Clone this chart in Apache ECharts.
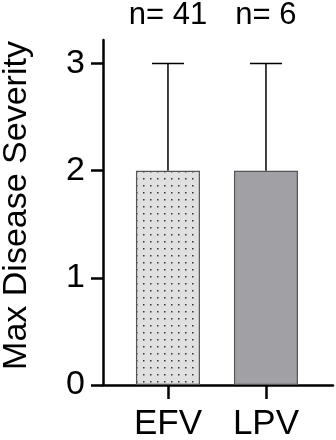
<!DOCTYPE html>
<html>
<head>
<meta charset="utf-8">
<script src="https://cdn.jsdelivr.net/npm/echarts@6/dist/echarts.min.js"></script>
<style>
  html, body { margin: 0; padding: 0; background: #fff; }
  #chart { width: 336px; height: 440px; }
</style>
</head>
<body>
<div id="chart"></div>
<script>
var groups = ['EFV', 'LPV'];
var nLabels = ['n= 41', 'n= 6'];
var means = [2, 2];
var upper = [3, 3];
var yTicks = [0, 1, 2, 3];
var xPos = [0, 1];

// dotted fill for the first bar
var dots = document.createElement('canvas');
dots.width = 7;
dots.height = 7;
var ctx = dots.getContext('2d');
ctx.fillStyle = '#e0e0e0';
ctx.fillRect(0, 0, 7, 7);
ctx.fillStyle = '#333';
ctx.fillRect(3, 3, 1.5, 1.5);

var fills = [{ image: dots, repeat: 'repeat' }, '#a1a1a5'];

var font = 'Liberation Sans';

var chart = echarts.init(document.getElementById('chart'));

var option = {
    animation: false,
    grid: { left: 103, right: 3, top: 40, bottom: 55, outerBoundsMode: 'none' },
    xAxis: [{
        type: 'value',
        min: -0.663,
        max: 1.684,
        splitLine: { show: false },
        axisLine: { lineStyle: { color: '#000', width: 2.5 } },
        axisTick: { customValues: xPos, length: 14, lineStyle: { color: '#000', width: 2.5 } },
        axisLabel: {
            customValues: xPos,
            formatter: function (v) { return groups[Math.round(v)]; },
            color: '#000', fontFamily: font, fontSize: 35, margin: 22
        }
    }, {
        type: 'value',
        position: 'top',
        min: -0.663,
        max: 1.684,
        splitLine: { show: false },
        axisLine: { show: false },
        axisTick: { show: false },
        axisLabel: {
            customValues: xPos,
            formatter: function (v) { return nLabels[Math.round(v)]; },
            color: '#000', fontFamily: font, fontSize: 31, margin: 9
        }
    }],
    yAxis: {
        type: 'value',
        min: 0,
        max: 3.22,
        name: 'Max Disease Severity',
        nameLocation: 'middle',
        nameGap: 69,
        nameMoveOverlap: false,
        nameTextStyle: { color: '#000', fontFamily: font, fontSize: 34, padding: [0, 0, 0, 14] },
        splitLine: { show: false },
        axisLine: { show: true, onZero: false, lineStyle: { color: '#000', width: 2.5 } },
        axisTick: { show: true, customValues: yTicks, length: 12, lineStyle: { color: '#000', width: 2.5 } },
        axisLabel: { customValues: yTicks, color: '#000', fontFamily: font, fontSize: 34, margin: 18 }
    },
    series: [{
        type: 'bar',
        barWidth: 64,
        z: 3,
        data: xPos.map(function (x, i) {
            return {
                value: [x, means[i]],
                itemStyle: { color: fills[i], borderColor: '#555', borderWidth: 1.2 }
            };
        })
    }, {
        type: 'custom',
        z: 2,
        data: xPos.map(function (x, i) { return [x, means[i], upper[i]]; }),
        renderItem: function (params, api) {
            var base = api.coord([api.value(0), api.value(1)]);
            var top = api.coord([api.value(0), api.value(2)]);
            var style = { stroke: '#000', lineWidth: 1.5 };
            return {
                type: 'group',
                children: [{
                    type: 'line',
                    shape: { x1: base[0], y1: base[1], x2: top[0], y2: top[1] },
                    style: style
                }, {
                    type: 'line',
                    shape: { x1: top[0] - 16, y1: top[1], x2: top[0] + 16, y2: top[1] },
                    style: style
                }]
            };
        }
    }]
};

chart.setOption(option);
</script>
</body>
</html>
